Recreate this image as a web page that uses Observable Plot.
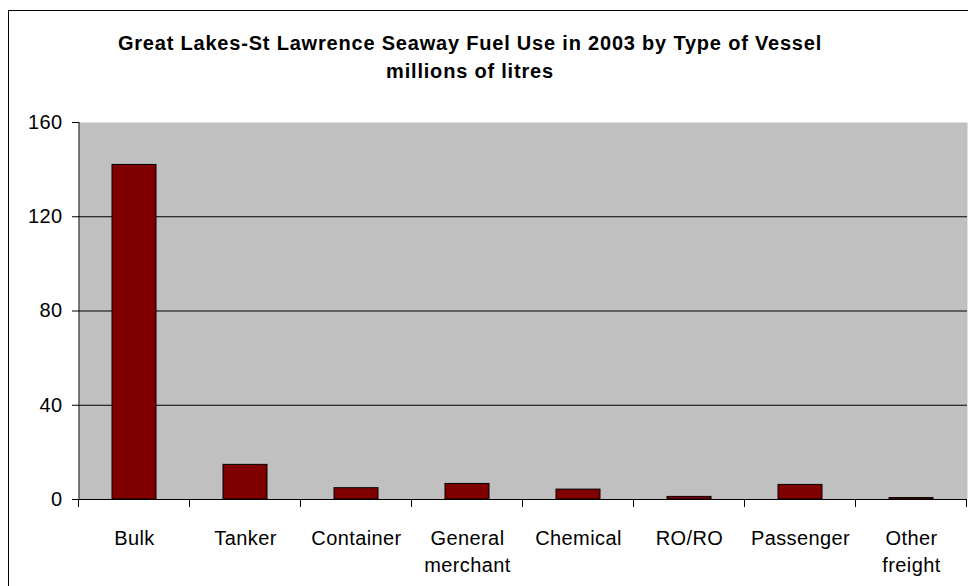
<!DOCTYPE html>
<html>
<head>
<meta charset="utf-8">
<script src="https://cdn.jsdelivr.net/npm/d3@7"></script>
<script src="https://cdn.jsdelivr.net/npm/@observablehq/plot@0.6"></script>
<style>
  html, body { margin: 0; padding: 0; background: #fff; }
  #wrap { position: relative; width: 968px; height: 586px; overflow: hidden; background: #fff;
          font-family: "Liberation Sans", Arial, sans-serif; }
  #frame { position: absolute; left: 8px; top: 10px; width: 1200px; height: 1200px; border: 1px solid #000; }
  #title { position: absolute; left: 0; top: 29px; width: 940px; text-align: center;
           font-weight: bold; font-size: 20px; letter-spacing: 0.8px; line-height: 28px; color: #000; }
  #chart { position: absolute; left: 0; top: 100px; }
</style>
</head>
<body>
<div id="wrap">
  <div id="frame"></div>
  <div id="title">Great Lakes-St Lawrence Seaway Fuel Use in 2003 by Type of Vessel<br>millions of litres</div>
  <div id="chart"></div>
</div>
<script>
const categories = ["Bulk", "Tanker", "Container", "General merchant", "Chemical", "RO/RO", "Passenger", "Other freight"];
const fuelUse = [142, 14.7, 4.8, 6.6, 4.2, 1.1, 6.2, 0.6];
const yTicks = [0, 40, 80, 120, 160];
const gridValues = [40, 80, 120];

const data = categories.map((c, i) => ({vessel: c, value: fuelUse[i]}));

function boundaryTicks(index, scales, values, dims) {
  const x = scales.x, y = scales.y;
  const dom = categories;
  let step, bw;
  if (typeof x.step === "function") { step = x.step(); bw = x.bandwidth(); }
  else {
    step = (dims.width - dims.marginLeft - dims.marginRight) / dom.length;
    bw = x.bandwidth !== undefined ? x.bandwidth : step * 0.4;
  }
  const xs = dom.map(d => x(d) + bw / 2 - step / 2);
  xs.push(xs[xs.length - 1] + step);
  const y0 = y(0);
  const g = d3.create("svg:g").attr("stroke", "#000").attr("stroke-width", 1);
  g.selectAll("line.t").data(xs).join("line")
    .attr("x1", d => d).attr("x2", d => d)
    .attr("y1", y0).attr("y2", y0 + 8);
  // y axis line
  g.append("line")
    .attr("x1", dims.marginLeft).attr("x2", dims.marginLeft)
    .attr("y1", y(yTicks[yTicks.length - 1])).attr("y2", y0);
  return g.node();
}

const chart = Plot.plot({
  width: 968,
  height: 486,
  marginTop: 22,
  marginBottom: 87,
  marginLeft: 79,
  marginRight: 1,
  style: {fontFamily: "'Liberation Sans', Arial, sans-serif", fontSize: "20px", letterSpacing: "0.4px", color: "#000", background: "transparent", overflow: "visible"},
  x: {domain: categories, paddingInner: 0.6, paddingOuter: 0.3, label: null},
  y: {domain: [0, 160], label: null},
  marks: [
    Plot.frame({fill: "#c0c0c0", stroke: null}),
    Plot.ruleY(gridValues, {stroke: "#000", strokeWidth: 1}),
    Plot.barY(data, {x: "vessel", y: "value", fill: "#800000", stroke: "#000", strokeWidth: 1}),
    Plot.ruleY([0], {stroke: "#000", strokeWidth: 1}),
    boundaryTicks,
    Plot.axisY({ticks: yTicks, tickSize: 7, tickPadding: 10, fontSize: 20, label: null, stroke: "#000"}),
    Plot.axisX({tickSize: 0, tickPadding: 26, fontSize: 20, lineHeight: 1.35, label: null,
                tickFormat: d => d.replace(" ", "\n")})
  ]
});
document.getElementById("chart").appendChild(chart);
</script>
</body>
</html>
